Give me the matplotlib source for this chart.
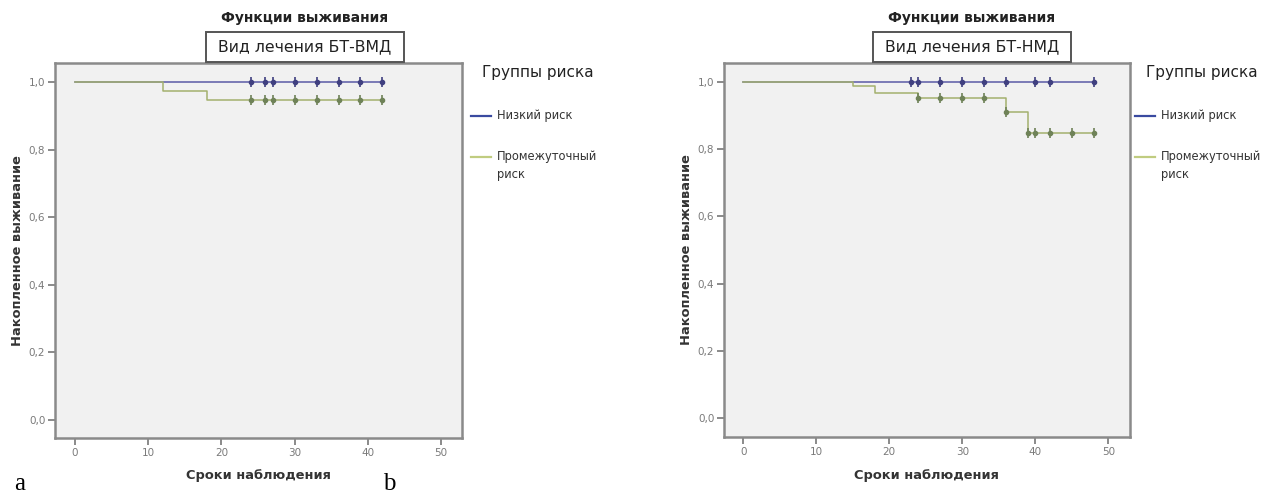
import numpy as np
import matplotlib
matplotlib.use("Agg")
import matplotlib.pyplot as plt
from matplotlib.lines import Line2D
from matplotlib.patches import Rectangle

plt.rcParams['font.family'] = ['DejaVu Sans']

W, H = 1263, 497
fig = plt.figure(figsize=(W / 100, H / 100), dpi=100)

def fx(px):
    return px / W

def fy(py):
    return 1 - py / H

# ---------------- data ----------------
main_title = "Функции выживания"
panel_titles = ["Вид лечения БТ-ВМД", "Вид лечения БТ-НМД"]
panel_letters = ["a", "b"]
legend_title = "Группы риска"
group_names = ["Низкий риск", "Промежуточный\nриск"]
xlabel = "Сроки наблюдения"
ylabel = "Накопленное выживание"
xticks = [0, 10, 20, 30, 40, 50]
yticks = [0.0, 0.2, 0.4, 0.6, 0.8, 1.0]
ytick_labels = ["0,0", "0,2", "0,4", "0,6", "0,8", "1,0"]

# Panel a
a_low_events = [0]
a_low_surv = [1.0]
a_low_end = 42
a_low_cens = [24, 26, 27, 30, 33, 36, 39, 42]
a_mid_events = [0, 12, 18]
a_mid_surv = [1.0, 0.974, 0.947]
a_mid_end = 42
a_mid_cens = [24, 26, 27, 30, 33, 36, 39, 42]

# Panel b
b_low_events = [0]
b_low_surv = [1.0]
b_low_end = 48
b_low_cens = [23, 24, 27, 30, 33, 36, 40, 42, 48]
b_mid_events = [0, 15, 18, 24, 36, 39]
b_mid_surv = [1.0, 0.988, 0.968, 0.954, 0.912, 0.849]
b_mid_end = 48
b_mid_cens = [24, 27, 30, 33, 36, 39, 40, 42, 45, 48]

panels = [
    dict(series=[(a_low_events, a_low_surv, a_low_end, a_low_cens),
                 (a_mid_events, a_mid_surv, a_mid_end, a_mid_cens)],
         box=(55, 63, 462, 438), xlim=(-2.73, 52.87), ylim=(-0.053, 1.056),
         title_cx=305, legend_x=471, letter_x=14, ylab_x=18),
    dict(series=[(b_low_events, b_low_surv, b_low_end, b_low_cens),
                 (b_mid_events, b_mid_surv, b_mid_end, b_mid_cens)],
         box=(724, 63, 1130, 437), xlim=(-2.64, 52.97), ylim=(-0.057, 1.057),
         title_cx=972, legend_x=1135, letter_x=383, ylab_x=687),
]

line_colors = ["#5a5aa6", "#a3b06e"]
mark_colors = ["#404080", "#6f8258"]
legend_colors = ["#3a4aa0", "#c0cc80"]

for i, p in enumerate(panels):
    l, t, r, b = p['box']
    ax = fig.add_axes([fx(l), fy(b), fx(r - l), (b - t) / H])
    ax.set_facecolor("#f1f1f1")
    # draw intermediate first so low risk overlays at 1.0
    for k in [1, 0]:
        ev, sv, end, cens = p['series'][k]
        xs = list(ev) + [end]
        ys = list(sv) + [sv[-1]]
        ax.step(xs, ys, where='post', color=line_colors[k], lw=1.1, zorder=2 + k)
        idx = np.searchsorted(np.array(ev), np.array(cens), side='right') - 1
        cy = np.array(sv)[idx]
        ax.plot(cens, cy, linestyle='none', marker='|', ms=7, mew=1.2,
                color=mark_colors[k], zorder=4)
        ax.plot(cens, cy, linestyle='none', marker='o', ms=3,
                color=mark_colors[k], zorder=4)
    ax.set_xlim(*p['xlim'])
    ax.set_ylim(*p['ylim'])
    ax.set_xticks(xticks)
    ax.set_xticklabels([str(v) for v in xticks])
    ax.set_yticks(yticks)
    ax.set_yticklabels(ytick_labels)
    ax.tick_params(axis='both', direction='out', length=5, width=1.2,
                   color="#777777", labelsize=7.5, labelcolor="#7a7a7a", pad=2)
    for s in ax.spines.values():
        s.set_color("#8a8a8a")
        s.set_linewidth(1.8)
    ax.set_xlabel(xlabel, fontsize=9.4, fontweight='bold', color="#333333", va='center')
    ax.xaxis.set_label_coords(0.5, -(475 - b) / (b - t))
    ax.set_ylabel(ylabel, fontsize=9.4, fontweight='bold', color="#333333", va='center')
    ax.yaxis.set_label_coords((p['ylab_x'] - l) / (r - l), 0.5)

    # titles
    cx = p['title_cx']
    fig.text(fx(cx), fy(18), main_title, ha='center', va='center',
             fontsize=10, fontweight='bold', color="#222222")
    bw, bh = 198, 30
    fig.add_artist(Rectangle((fx(cx - bw / 2), fy(62)), bw / W, bh / H,
                             transform=fig.transFigure, facecolor='white',
                             edgecolor='#555555', lw=1.4, zorder=5))
    fig.text(fx(cx), fy(47), panel_titles[i], ha='center', va='center',
             fontsize=11.3, color="#222222", zorder=6)

    # legend
    lx = p['legend_x']
    fig.text(fx(lx + 11), fy(72), legend_title, ha='left', va='center',
             fontsize=11.0, color="#222222")
    fig.add_artist(Line2D([fx(lx), fx(lx + 20)], [fy(116), fy(116)],
                          color=legend_colors[0], lw=1.6, transform=fig.transFigure))
    fig.text(fx(lx + 26), fy(116), group_names[0], ha='left', va='center',
             fontsize=8.3, color="#333333")
    fig.add_artist(Line2D([fx(lx), fx(lx + 20)], [fy(157), fy(157)],
                          color=legend_colors[1], lw=1.6, transform=fig.transFigure))
    fig.text(fx(lx + 26), fy(150), group_names[1], ha='left', va='top',
             fontsize=8.3, color="#333333", linespacing=1.5)

    fig.text(fx(p['letter_x']), fy(484), panel_letters[i], ha='left', va='center',
             fontsize=18, family='Liberation Serif', color='black')

fig.savefig("out.png", dpi=100, facecolor='white')
